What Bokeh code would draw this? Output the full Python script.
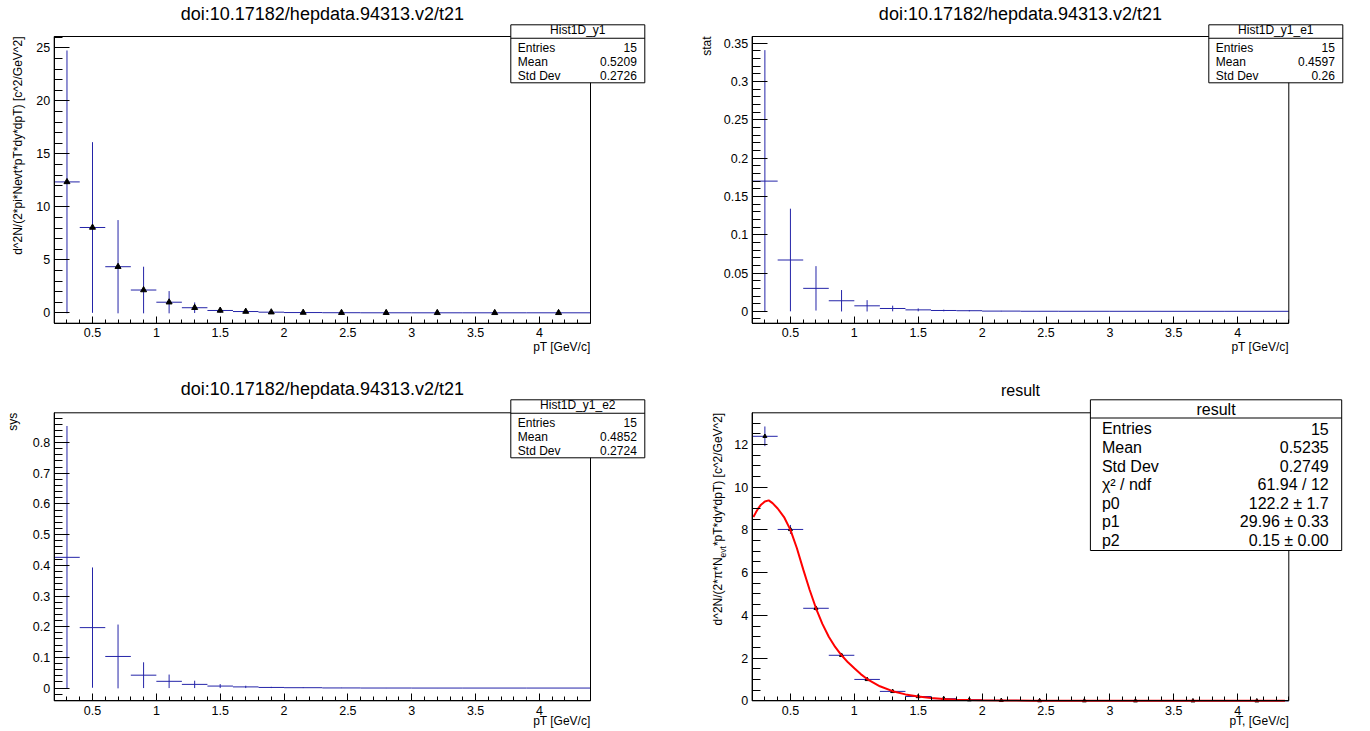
import math
from bokeh.plotting import figure
from bokeh.models import ColumnDataSource, Range1d, FixedTicker, Label, BoxAnnotation
from bokeh.layouts import column, row
from bokeh.embed import file_html
from bokeh.resources import INLINE

# ---------------- data ----------------
bin_lo = [0.2, 0.4, 0.6, 0.8, 1.0, 1.2, 1.4, 1.6, 1.8, 2.0, 2.3, 2.6, 3.0, 3.4, 3.9]
bin_hi = [0.4, 0.6, 0.8, 1.0, 1.2, 1.4, 1.6, 1.8, 2.0, 2.3, 2.6, 3.0, 3.4, 3.9, 4.4]
pt = [0.3, 0.5, 0.7, 0.9, 1.1, 1.3, 1.5, 1.7, 1.9, 2.15, 2.45, 2.8, 3.2, 3.65, 4.15]

y1 = [12.35, 8.05, 4.35, 2.15, 1.00, 0.48, 0.22, 0.12, 0.06, 0.025, 0.009, 0.003, 0.001, 0.0004, 0.0001]
y1_err = [12.40, 8.05, 4.40, 2.20, 1.05, 0.50, 0.22, 0.12, 0.06, 0.025, 0.009, 0.003, 0.001, 0.0004, 0.0001]

stat = [0.170, 0.067, 0.030, 0.0138, 0.0072, 0.0037, 0.0019, 0.0011, 0.0008, 0.0003, 0.0001, 0.00005, 0.00002, 0.00001, 0.000005]
stat_err = [0.171, 0.067, 0.029, 0.0140, 0.0074, 0.0037, 0.0019, 0.0011, 0.0008, 0.0003, 0.0001, 0.00005, 0.00002, 0.00001, 0.000005]

sys_ = [0.426, 0.197, 0.103, 0.042, 0.022, 0.012, 0.0065, 0.0038, 0.002, 0.0012, 0.0004, 0.00015, 0.00005, 0.00002, 0.00001]
sys_err = [0.428, 0.196, 0.104, 0.042, 0.022, 0.012, 0.0065, 0.0038, 0.002, 0.0012, 0.0004, 0.00015, 0.00005, 0.00002, 0.00001]

res = [12.38, 8.02, 4.33, 2.13, 1.00, 0.44, 0.20, 0.10, 0.05, 0.02, 0.008, 0.003, 0.001, 0.0004, 0.0001]
res_err = [0.46, 0.21, 0.11, 0.044, 0.023, 0.013, 0.007, 0.004, 0.002, 0.0012, 0.0004, 0.00015, 0.00005, 0.00002, 0.00001]

fit_x = [0.21, 0.23, 0.25, 0.27, 0.30, 0.33, 0.36, 0.40, 0.45, 0.50, 0.55, 0.60, 0.65, 0.70, 0.75,
         0.80, 0.85, 0.90, 0.95, 1.00, 1.05, 1.10, 1.20, 1.30, 1.40, 1.50, 1.60, 1.70, 1.80, 1.90,
         2.00, 2.20, 2.40, 2.70, 3.00, 3.50, 4.00, 4.37]
fit_y = [8.60, 8.82, 9.02, 9.18, 9.33, 9.38, 9.25, 9.00, 8.60, 8.00, 7.15, 6.15, 5.20, 4.33, 3.60,
         3.00, 2.52, 2.13, 1.80, 1.52, 1.25, 1.02, 0.68, 0.45, 0.30, 0.20, 0.13, 0.085, 0.055, 0.038,
         0.025, 0.012, 0.006, 0.002, 0.0008, 0.0002, 0.00005, 0.00001]

title_doi = "doi:10.17182/hepdata.94313.v2/t21"
title_res = "result"

x_major = [0.5, 1.0, 1.5, 2.0, 2.5, 3.0, 3.5, 4.0]
x_labels = ["0.5", "1", "1.5", "2", "2.5", "3", "3.5", "4"]
x_minor = [round(0.2 + 0.1 * i, 1) for i in range(43)]

y1_major = [0, 5, 10, 15, 20, 25]
y1_labels = ["0", "5", "10", "15", "20", "25"]
y1_minor = list(range(0, 27))

stat_major = [0, 0.05, 0.1, 0.15, 0.2, 0.25, 0.3, 0.35]
stat_labels = ["0", "0.05", "0.1", "0.15", "0.2", "0.25", "0.3", "0.35"]
stat_minor = [round(-0.01 + 0.01 * i, 2) for i in range(37)]

sys_major = [0, 0.1, 0.2, 0.3, 0.4, 0.5, 0.6, 0.7, 0.8]
sys_labels = ["0", "0.1", "0.2", "0.3", "0.4", "0.5", "0.6", "0.7", "0.8"]
sys_minor = [round(-0.04 + 0.02 * i, 2) for i in range(47)]

res_major = [0, 2, 4, 6, 8, 10, 12]
res_labels = ["0", "2", "4", "6", "8", "10", "12"]
res_minor = [0.5 * i for i in range(27)]

stat_names3 = ["Entries", "Mean", "Std Dev"]
stats1_vals = ["15", "0.5209", "0.2726"]
stats2_vals = ["15", "0.4597", "0.26"]
stats3_vals = ["15", "0.4852", "0.2724"]
stat_names4 = ["Entries", "Mean", "Std Dev", "\u03c7\u00b2 / ndf", "p0", "p1", "p2"]
stats4_vals = ["15", "0.5235", "0.2749", "61.94 / 12", "122.2 \u00b1 1.7", "29.96 \u00b1 0.33", "0.15 \u00b1 0.00"]

# ---------------- styling ----------------
FONT = "Liberation Sans"
BLUE = "#2424a8"
XMIN, XMAX = 0.2, 4.4


class Pad:
    def __init__(self, cx, cy, W, H, vl, vr, vt, vb, ylim, y_major, y_labels, y_minor):
        """cx, cy: page position of the canvas; vl..vb: page position of the drawn frame."""
        self.cx, self.cy, self.H = cx, cy, H
        ymin, ymax = ylim
        l, r, t, b = vl - cx, vr - cx, vt - cy, vb - cy
        ppx = (r - l) / (XMAX - XMIN)
        ppy = (b - t) / (ymax - ymin)
        xr = Range1d(XMIN - l / ppx, XMAX + (W - r) / ppx)
        yr = Range1d(ymin - (H - b) / ppy, ymax + t / ppy)
        p = figure(width=W, height=H, title=None, x_range=xr, y_range=yr,
                   output_backend="svg", toolbar_location=None, min_border=0)
        p.grid.visible = False
        p.outline_line_color = None
        p.background_fill_color = "white"
        p.border_fill_color = "white"
        specs = ((p.xaxis[0], x_major, x_labels, x_minor, 7, 4, 5, ymin, (XMIN, XMAX)),
                 (p.yaxis[0], y_major, y_labels, y_minor, 15, 8, 4, XMIN, (ymin, ymax)))
        for ax, major, labels, minor, tin, mtin, so, loc, bnds in specs:
            ax.fixed_location = loc
            ax.bounds = bnds
            ax.ticker = FixedTicker(ticks=major, minor_ticks=minor)
            ax.major_label_overrides = dict(zip(major, labels))
            ax.major_tick_in = tin
            ax.major_tick_out = 0
            ax.minor_tick_in = mtin
            ax.minor_tick_out = 0
            ax.axis_line_color = "black"
            ax.major_tick_line_color = "black"
            ax.minor_tick_line_color = "black"
            ax.major_label_text_font = FONT
            ax.major_label_text_font_size = "12.5px"
            ax.major_label_text_color = "black"
            ax.major_label_standoff = so
        # the drawn frame of the histogram
        p.add_layout(BoxAnnotation(left=XMIN, right=XMAX, bottom=ymin, top=ymax,
                                   fill_color=None, fill_alpha=0.0,
                                   line_color="black", line_alpha=1.0, line_width=1))
        self.p = p

    def sx(self, px):
        return px - self.cx

    def sy(self, py):
        return self.H - (py - self.cy)

    def text(self, px, py, text, size, align="left", angle=0.0):
        # (px, py): page position of the text's horizontal anchor and vertical middle
        self.p.add_layout(Label(x=self.sx(px), y=self.sy(py), x_units="screen", y_units="screen",
                                text=text, text_font=FONT, text_font_size=f"{size}px",
                                text_align=align, text_baseline="middle", angle=angle,
                                text_color="black"))

    def box(self, left, right, top, bottom, fill="white", line=True):
        self.p.add_layout(BoxAnnotation(left=self.sx(left), right=self.sx(right),
                                        top=self.sy(top), bottom=self.sy(bottom),
                                        left_units="screen", right_units="screen",
                                        top_units="screen", bottom_units="screen",
                                        fill_color=fill, fill_alpha=1.0, line_color="black",
                                        line_alpha=1.0 if line else 0.0, line_width=1))

    def stats(self, left, right, top, sep_off, bot_off, header, names, vals, size,
              head_mid, row_mid, row_step, pad_l, pad_r):
        self.box(left, right, top, top + bot_off)
        self.box(left, right, top + sep_off - 0.5, top + sep_off + 0.5, fill="black", line=False)
        self.text((left + right) / 2, top + head_mid, header, size, "center")
        for i, (n, v) in enumerate(zip(names, vals)):
            yy = top + row_mid + i * row_step
            self.text(left + pad_l, yy, n, size, "left")
            self.text(right - pad_r, yy, v, size, "right")

    def hist(self, y, err, markers=None):
        src = ColumnDataSource(dict(x=pt, x0=bin_lo, x1=bin_hi, y=y,
                                    lo=[a - b for a, b in zip(y, err)],
                                    hi=[a + b for a, b in zip(y, err)]))
        self.p.segment(x0="x", y0="lo", x1="x", y1="hi", source=src, line_color=BLUE, line_width=1)
        self.p.segment(x0="x0", y0="y", x1="x1", y1="y", source=src, line_color=BLUE, line_width=1)
        if markers:
            self.p.scatter(x="x", y="y", source=src, marker="triangle", size=markers,
                           fill_color="black", line_color="black")


VERT = math.pi / 2

# ---------------- panel 1 ----------------
a = Pad(0, 0, 690, 368, 53.7, 590.0, 36.0, 322.7, (-0.98, 26.07), y1_major, y1_labels, y1_minor)
a.hist(y1, y1_err, markers=6)
a.text(321.9, 13.3, title_doi, 18, "center")
a.text(17, 36, "d^2N/(2*pi*Nevt*pT*dy*dpT) [c^2/GeV^2]", 12, "right", VERT)
a.text(590.0, 346.0, "pT [GeV/c]", 12, "right")
a.stats(510.3, 644.3, 24.3, 13.4, 58, "Hist1D_y1", stat_names3, stats1_vals, 12,
        5.6, 23.0, 13.9, 7, 8)

# ---------------- panel 2 ----------------
b = Pad(690, 0, 676, 368, 751.6, 1288.3, 36.0, 322.7, (-0.0155, 0.3588), stat_major, stat_labels, stat_minor)
b.hist(stat, stat_err)
b.text(1020.0, 13.3, title_doi, 18, "center")
b.text(706, 36, "stat", 12, "right", VERT)
b.text(1288.3, 346.0, "pT [GeV/c]", 12, "right")
b.stats(1208.3, 1342.3, 24.3, 13.4, 58, "Hist1D_y1_e1", stat_names3, stats2_vals, 12,
        5.6, 23.0, 13.9, 7, 8)

# ---------------- panel 3 ----------------
c = Pad(0, 368, 690, 362, 53.7, 590.0, 412.3, 700.3, (-0.0415, 0.897), sys_major, sys_labels, sys_minor)
c.hist(sys_, sys_err)
c.text(321.9, 388.3, title_doi, 18, "center")
c.text(12, 412.3, "sys", 12, "right", VERT)
c.text(590.0, 720.3, "pT [GeV/c]", 12, "right")
c.stats(510.3, 644.3, 399.3, 13.4, 58, "Hist1D_y1_e2", stat_names3, stats3_vals, 12,
        5.6, 23.0, 13.9, 7, 8)

# ---------------- panel 4 ----------------
d = Pad(690, 368, 676, 362, 751.6, 1288.3, 412.3, 700.3, (0.0, 13.48), res_major, res_labels, res_minor)
d.hist(res, res_err, markers=4)
d.p.line(fit_x, fit_y, line_color="#ff0000", line_width=2)
d.text(1020.0, 389.5, title_res, 16, "center")
ytop = 412.3
w3 = 11.109 * 12
w2 = 1.334 * 8.5
d.text(717, ytop, "*pT*dy*dpT) [c^2/GeV^2]", 12, "right", VERT)
d.text(722, ytop + w3, "evt", 8.5, "right", VERT)
d.text(717, ytop + w3 + w2, "d^2N/(2*\u03c0*N", 12, "right", VERT)
d.text(1288.3, 720.3, "pT, [GeV/c]", 12, "right")
d.stats(1089.9, 1341.2, 399.3, 18.3, 150.7, "result", stat_names4, stats4_vals, 16,
        9.3, 29.0, 18.6, 11.5, 13)

layout = column(row(a.p, b.p), row(c.p, d.p))
open("out.html", "w").write(file_html(layout, INLINE))
